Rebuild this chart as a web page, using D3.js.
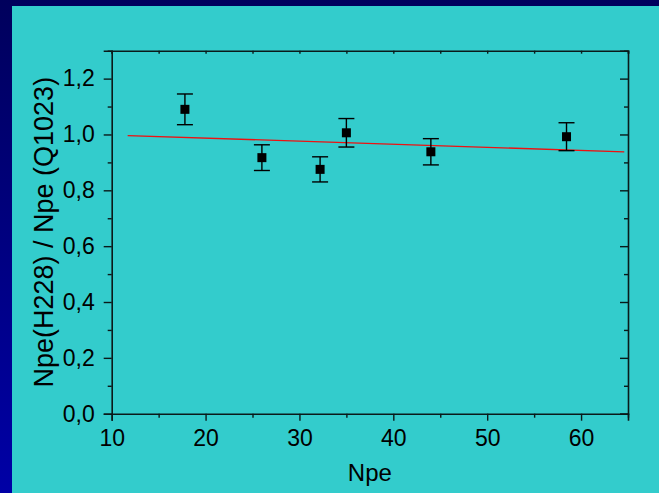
<!DOCTYPE html>
<html>
<head>
<meta charset="utf-8">
<script src="https://cdn.jsdelivr.net/npm/d3@7/dist/d3.min.js"></script>
<style>
html,body{margin:0;padding:0;background:#000080;}
svg{display:block;}
text{font-family:"Liberation Sans",Arial,sans-serif;fill:#000;}
</style>
</head>
<body>
<script>
// ---- data ----
const npe = [17.8, 26.0, 32.2, 35.0, 44.0, 58.45];
const ratio = [1.090, 0.917, 0.875, 1.006, 0.938, 0.992];
const ratioErr = [0.055, 0.046, 0.045, 0.051, 0.047, 0.050];
const fitX = [11.7, 64.6];
const fitY = [0.996, 0.938];
const xTicks = [10, 20, 30, 40, 50, 60];
const yTicks = [0.0, 0.2, 0.4, 0.6, 0.8, 1.0, 1.2];
const xTitle = "Npe";
const yTitle = "Npe(H228) / Npe (Q1023)";

(function () {
const W = 659, H = 493;
const pL = 111.7, pR = 628, pT = 50.7, pB = 413.7;

const svg = d3.select("body").append("svg").attr("width", W).attr("height", H);
const defs = svg.append("defs");
const grad = defs.append("linearGradient").attr("id", "bg").attr("x1", 0).attr("y1", 0).attr("x2", 0).attr("y2", 1);
grad.append("stop").attr("offset", "0%").attr("stop-color", "#00005c");
grad.append("stop").attr("offset", "100%").attr("stop-color", "#0000a6");
svg.append("rect").attr("width", W).attr("height", H).attr("fill", "url(#bg)");
svg.append("rect").attr("x", 12).attr("y", 6).attr("width", W - 12).attr("height", H - 6).attr("fill", "#33cccc");

const x = d3.scaleLinear().domain([10, 65]).range([pL, pR]);
const y = d3.scaleLinear().domain([0, 1.3]).range([pB, pT]);

const fmtY = d => d3.format(".1f")(d).replace(".", ",");
const axColor = "#0a1a1a";

function styleAxis(g) {
  g.select(".domain").attr("stroke", axColor).attr("stroke-width", 1.6);
  g.selectAll(".tick line").attr("stroke", axColor).attr("stroke-width", 1.4);
}

const xMinor = d3.range(15, 66, 10);
const yMinor = d3.range(0.1, 1.31, 0.2);

// bottom axis
const gx = svg.append("g").attr("transform", `translate(0,${pB})`)
  .call(d3.axisBottom(x).tickValues(xTicks).tickSize(7).tickPadding(9).tickFormat(d3.format("d")));
styleAxis(gx);
gx.selectAll("text").attr("font-size", 23).attr("fill", "#000");
svg.append("g").attr("transform", `translate(0,${pB})`)
  .call(d3.axisBottom(x).tickValues(xMinor).tickSize(4).tickFormat(""))
  .call(g => { g.select(".domain").remove(); g.selectAll("line").attr("stroke", axColor).attr("stroke-width", 1.4); });

// top axis
const gt = svg.append("g").attr("transform", `translate(0,${pT})`)
  .call(d3.axisTop(x).tickValues(xTicks.concat(xMinor)).tickSize(-3).tickFormat(""));
styleAxis(gt);

// left axis
const gy = svg.append("g").attr("transform", `translate(${pL},0)`)
  .call(d3.axisLeft(y).tickValues(yTicks).tickSize(8).tickPadding(9).tickFormat(fmtY));
styleAxis(gy);
gy.selectAll("text").attr("font-size", 23).attr("fill", "#000");
svg.append("g").attr("transform", `translate(${pL},0)`)
  .call(d3.axisLeft(y).tickValues(yMinor).tickSize(4).tickFormat(""))
  .call(g => { g.select(".domain").remove(); g.selectAll("line").attr("stroke", axColor).attr("stroke-width", 1.4); });

// right axis
const gr = svg.append("g").attr("transform", `translate(${pR},0)`)
  .call(d3.axisRight(y).tickValues(yTicks).tickSize(-8).tickFormat(""));
styleAxis(gr);
svg.append("g").attr("transform", `translate(${pR},0)`)
  .call(d3.axisRight(y).tickValues(yMinor).tickSize(-4).tickFormat(""))
  .call(g => { g.select(".domain").remove(); g.selectAll("line").attr("stroke", axColor).attr("stroke-width", 1.4); });

// fit line
svg.append("path")
  .datum(fitX.map((d, i) => [d, fitY[i]]))
  .attr("d", d3.line().x(d => x(d[0])).y(d => y(d[1])))
  .attr("stroke", "#ee1111").attr("stroke-width", 1.3).attr("fill", "none");

// error bars
const pts = npe.map((d, i) => ({ x: d, y: ratio[i], e: ratioErr[i] }));
const eb = svg.append("g").attr("stroke", "#000").attr("stroke-width", 1.4);
eb.selectAll("line.v").data(pts).join("line").attr("class", "v")
  .attr("x1", d => x(d.x)).attr("x2", d => x(d.x))
  .attr("y1", d => y(d.y + d.e)).attr("y2", d => y(d.y - d.e));
eb.selectAll("line.t").data(pts).join("line").attr("class", "t")
  .attr("x1", d => x(d.x) - 8).attr("x2", d => x(d.x) + 8)
  .attr("y1", d => y(d.y + d.e)).attr("y2", d => y(d.y + d.e));
eb.selectAll("line.b").data(pts).join("line").attr("class", "b")
  .attr("x1", d => x(d.x) - 8).attr("x2", d => x(d.x) + 8)
  .attr("y1", d => y(d.y - d.e)).attr("y2", d => y(d.y - d.e));

// markers
svg.append("g").selectAll("rect").data(pts).join("rect")
  .attr("x", d => x(d.x) - 4.5).attr("y", d => y(d.y) - 4.5)
  .attr("width", 9).attr("height", 9).attr("fill", "#000");

// titles
svg.append("text").attr("x", (pL + pR) / 2).attr("y", 481)
  .attr("text-anchor", "middle").attr("font-size", 24).text(xTitle);
svg.append("text").attr("transform", `translate(53,${(pT + pB) / 2}) rotate(-90)`)
  .attr("text-anchor", "middle").attr("font-size", 27).text(yTitle);
})();
</script>
</body>
</html>
